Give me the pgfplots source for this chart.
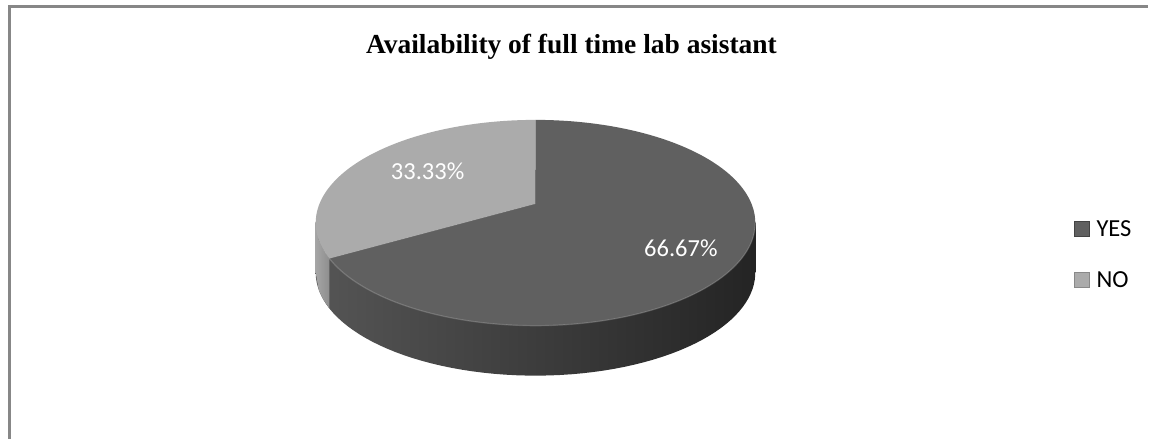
\documentclass[border=0pt]{standalone}
\usepackage{pgfplots}
\pgfplotsset{compat=1.18}
\usepackage{fontspec}
\setmainfont{Liberation Serif}
\newfontfamily\carlito{Carlito}
\definecolor{yestop}{HTML}{606060}
\definecolor{notop}{HTML}{ABABAB}
\definecolor{sideL}{HTML}{555555}
\definecolor{sideR}{HTML}{242424}
\definecolor{noside}{HTML}{8E8E8E}
\definecolor{framecol}{HTML}{878787}
% data (percent)
\def\yesval{66.67}
\def\noval{33.33}
% pie geometry in pixel units (perspective ellipse)
\def\cx{536}\def\cy{223}\def\rx{220}\def\ry{103}\def\pb{0.184}\def\depth{50}
\pgfmathsetmacro\split{90+3.6*\noval}
\pgfmathsetmacro\splitx{\cx+\rx*cos(\split)*sqrt(1-\pb*\pb)/(1+\pb*sin(\split))}
\pgfmathsetmacro\splity{\cy-\ry*(sin(\split)+\pb)/(1+\pb*sin(\split))}
\begin{document}
\begin{tikzpicture}
\begin{axis}[
  hide axis, scale only axis, width=1149pt, height=439pt,
  xmin=0, xmax=1149, ymin=0, ymax=439, y dir=reverse, clip=false,
  legend image code/.code={\draw[#1] (0pt,-7.5pt) rectangle (15pt,7.5pt);},
  legend style={at={(axis cs:1075,221.5)}, anchor=north west, draw=none, fill=none,
    inner sep=0pt, row sep=35pt, font=\carlito\fontsize{24.5}{29}\selectfont,
    nodes={inner sep=0pt, text height=15pt, text depth=0pt},
    /tikz/every odd column/.append style={column sep=7pt}},
  legend cell align=left,
]
\path (axis cs:0,0) rectangle (axis cs:1149,439);
% side: bottom ellipse + band
\addplot[forget plot, draw=none, left color=sideL, right color=sideR, domain=0:360, samples=150]
 ({\cx+\rx*cos(x)*sqrt(1-\pb*\pb)/(1+\pb*sin(x))},{\cy+\depth-\ry*(sin(x)+\pb)/(1+\pb*sin(x))}) -- cycle;
\addplot[forget plot, draw=none, left color=sideL, right color=sideR]
 coordinates {(316,223) (756,223) (756,273) (316,273)} -- cycle;
% NO side (left)
\addplot[forget plot, draw=none, left color=noside!80!white, right color=noside]
 coordinates {(316,223) (319.1,240.4) (323.5,249.6) (\splitx,\splity) (\splitx,\splity+\depth) (323.5,299.6) (319.1,290.4) (316,273)} -- cycle;
% top faces
\addplot[forget plot, draw=none, fill=yestop, domain=\split-360:90, samples=150]
 ({\cx+\rx*cos(x)*sqrt(1-\pb*\pb)/(1+\pb*sin(x))},{\cy-\ry*(sin(x)+\pb)/(1+\pb*sin(x))}) -- (axis cs:\cx,{\cy-\ry*\pb}) -- cycle;
\addplot[forget plot, draw=none, fill=notop, domain=90:\split, samples=80]
 ({\cx+\rx*cos(x)*sqrt(1-\pb*\pb)/(1+\pb*sin(x))},{\cy-\ry*(sin(x)+\pb)/(1+\pb*sin(x))}) -- (axis cs:\cx,{\cy-\ry*\pb}) -- cycle;
% rim highlight
\addplot[forget plot, draw=white, opacity=0.18, line width=1.2pt, domain=\split-360:-10.6, samples=120]
 ({\cx+\rx*cos(x)*sqrt(1-\pb*\pb)/(1+\pb*sin(x))},{\cy-\ry*(sin(x)+\pb)/(1+\pb*sin(x))});
% labels
\node[anchor=base, text=white, font=\carlito\fontsize{24.5}{29}\selectfont, inner sep=0pt] at (axis cs:681.5,257) {66.67\%};
\node[anchor=base, text=white, font=\carlito\fontsize{24.5}{29}\selectfont, inner sep=0pt] at (axis cs:428,180) {33.33\%};
% title
\node[anchor=base, font=\bfseries\fontsize{27.5}{33}\selectfont, inner sep=0pt] at (axis cs:572,54) {Availability of full time lab asistant};
% frame
\draw[framecol, line width=2.2pt] (axis cs:9.5,439) -- (axis cs:9.5,6.5) -- (axis cs:1149,6.5);
% legend
\addlegendimage{fill=yestop, draw=yestop!70!black}
\addlegendentry{YES}
\addlegendimage{fill=notop, draw=notop!80!black}
\addlegendentry{NO}
\end{axis}
\end{tikzpicture}
\end{document}
